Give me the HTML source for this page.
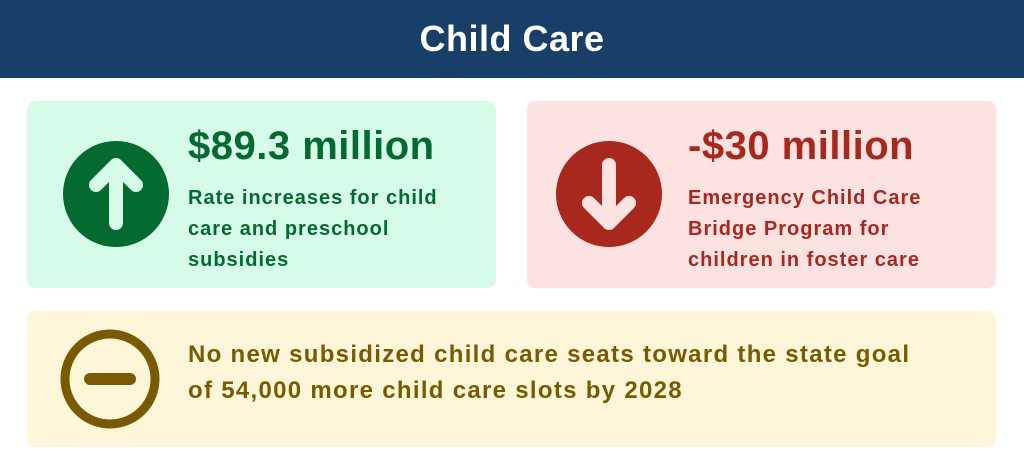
<!DOCTYPE html>
<html><head><style>
body{margin:0;width:1024px;height:468px;background:#fff;font-family:"Liberation Sans",sans-serif;position:relative;overflow:hidden}
.hd{position:absolute;left:0;top:0;width:1024px;height:78px;background:#173f67;color:#fff;font-weight:bold;font-size:36px;text-align:center;line-height:78px;letter-spacing:0.5px}
.card{position:absolute;border-radius:8px}
.t{position:absolute;font-weight:bold;white-space:nowrap}
</style></head><body>
<div class="hd">Child Care</div>
<div class="card" style="left:27px;top:101px;width:469px;height:187px;background:#d7fbe9"></div>
<div class="card" style="left:527px;top:101px;width:469px;height:187px;background:#fde2e2"></div>
<div class="card" style="left:27px;top:311px;width:969px;height:136px;background:#fdf6d8"></div>
<svg style="position:absolute;left:0;top:0" width="1024" height="468">
<circle cx="116" cy="194" r="53" fill="#046b30"/>
<path d="M116 223 V165 M96 185 L116 165 L136 185" stroke="#d7fbe9" stroke-width="14" stroke-linecap="round" stroke-linejoin="round" fill="none"/>
<circle cx="609" cy="194" r="53" fill="#a8281d"/>
<path d="M609 165 V223 M589 203 L609 223 L629 203" stroke="#fde2e2" stroke-width="14" stroke-linecap="round" stroke-linejoin="round" fill="none"/>
<circle cx="110" cy="379" r="45" fill="none" stroke="#7a5a00" stroke-width="9"/>
<line x1="90" y1="379" x2="130" y2="379" stroke="#7a5a00" stroke-width="12" stroke-linecap="round"/>
</svg>
<div class="t" style="left:188px;top:124px;font-size:40px;letter-spacing:0.5px;color:#046b30">$89.3 million</div>
<div class="t" style="left:188px;top:183px;font-size:20px;line-height:31px;letter-spacing:1px;color:#046b30">Rate increases for child<br>care and preschool<br>subsidies</div>
<div class="t" style="left:688px;top:124px;font-size:40px;letter-spacing:0.5px;color:#a8281d">-$30 million</div>
<div class="t" style="left:688px;top:183px;font-size:20px;line-height:31px;letter-spacing:1px;color:#a8281d">Emergency Child Care<br>Bridge Program for<br>children in foster care</div>
<div class="t" style="left:188px;top:337px;font-size:24px;line-height:36px;letter-spacing:1.3px;color:#7a5a00">No new subsidized child care seats toward the state goal<br>of 54,000 more child care slots by 2028</div>
</body></html>
